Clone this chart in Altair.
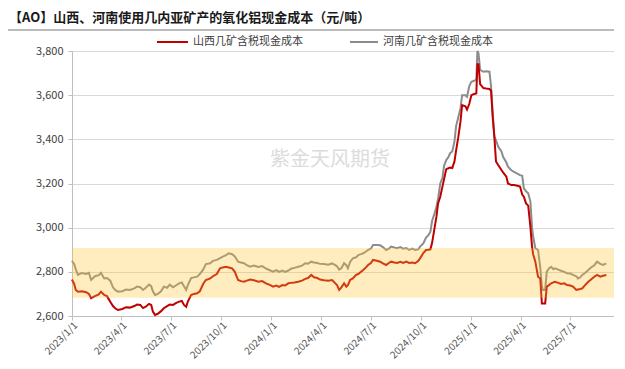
import altair as alt
import pandas as pd

# ---------------- data ----------------
dates = [
    "2023-01-01", "2023-01-05", "2023-01-08", "2023-01-12", "2023-01-19", "2023-01-27",
    "2023-02-01", "2023-02-05", "2023-02-12", "2023-02-19", "2023-02-23", "2023-03-01",
    "2023-03-06", "2023-03-12", "2023-03-17", "2023-03-21", "2023-03-26", "2023-04-03",
    "2023-04-10", "2023-04-17", "2023-04-25", "2023-04-30", "2023-05-06", "2023-05-11",
    "2023-05-16", "2023-05-22", "2023-05-26", "2023-05-29", "2023-06-02", "2023-06-07",
    "2023-06-13", "2023-06-18", "2023-06-24", "2023-06-29", "2023-07-05", "2023-07-10",
    "2023-07-16", "2023-07-21", "2023-07-25", "2023-07-29", "2023-08-01", "2023-08-07",
    "2023-08-12", "2023-08-18", "2023-08-23", "2023-08-29", "2023-09-03", "2023-09-11",
    "2023-09-16", "2023-09-23", "2023-09-29", "2023-10-04", "2023-10-10", "2023-10-15",
    "2023-10-21", "2023-10-26", "2023-11-01", "2023-11-06", "2023-11-12", "2023-11-17",
    "2023-11-23", "2023-11-30", "2023-12-08", "2023-12-15", "2023-12-22", "2023-12-30",
    "2024-01-04", "2024-01-10", "2024-01-15", "2024-01-21", "2024-01-26", "2024-02-01",
    "2024-02-06", "2024-02-12", "2024-02-19", "2024-02-26", "2024-03-03", "2024-03-08",
    "2024-03-14", "2024-03-19", "2024-03-25", "2024-03-30", "2024-04-06", "2024-04-14",
    "2024-04-21", "2024-04-27", "2024-04-30", "2024-05-04", "2024-05-08", "2024-05-13",
    "2024-05-17", "2024-05-20", "2024-05-24", "2024-05-29", "2024-06-04", "2024-06-08",
    "2024-06-13", "2024-06-17", "2024-06-22", "2024-06-26", "2024-07-01", "2024-07-05",
    "2024-07-12", "2024-07-18", "2024-07-23", "2024-07-29", "2024-08-03", "2024-08-07",
    "2024-08-13", "2024-08-18", "2024-08-24", "2024-08-29", "2024-09-04", "2024-09-09",
    "2024-09-15", "2024-09-20", "2024-09-26", "2024-09-29", "2024-10-05", "2024-10-10",
    "2024-10-14", "2024-10-18", "2024-10-21", "2024-10-25", "2024-10-29", "2024-11-01",
    "2024-11-05", "2024-11-09", "2024-11-12", "2024-11-16", "2024-11-20", "2024-11-23",
    "2024-11-27", "2024-12-01", "2024-12-04", "2024-12-08", "2024-12-12", "2024-12-15",
    "2024-12-21", "2024-12-24", "2024-12-28", "2025-01-01", "2025-01-06", "2025-01-10",
    "2025-01-12", "2025-01-14", "2025-01-17", "2025-01-23", "2025-01-28", "2025-02-03",
    "2025-02-06", "2025-02-09", "2025-02-12", "2025-02-15", "2025-02-19", "2025-02-25",
    "2025-02-28", "2025-03-06", "2025-03-09", "2025-03-15", "2025-03-20", "2025-03-26",
    "2025-03-31", "2025-04-04", "2025-04-07", "2025-04-11", "2025-04-15", "2025-04-19",
    "2025-04-22", "2025-04-24", "2025-04-28", "2025-05-03", "2025-05-07", "2025-05-10",
    "2025-05-12", "2025-05-16", "2025-05-19", "2025-05-23", "2025-05-27", "2025-05-31",
    "2025-06-03", "2025-06-09", "2025-06-14", "2025-06-20", "2025-06-25", "2025-07-01",
    "2025-07-06", "2025-07-12", "2025-07-15", "2025-07-19", "2025-07-23", "2025-07-28",
    "2025-08-03", "2025-08-08", "2025-08-14", "2025-08-19", "2025-08-25", "2025-08-30",
    "2025-09-05",
]

henan = [
    2850, 2835, 2810, 2786, 2795, 2790, 2795, 2763, 2780, 2785, 2795, 2770,
    2772, 2760, 2730, 2718, 2710, 2712, 2720, 2718, 2725, 2733, 2730, 2718,
    2728, 2742, 2735, 2712, 2695, 2700, 2712, 2733, 2728, 2742, 2730, 2738,
    2748, 2752, 2735, 2718, 2740, 2772, 2775, 2778, 2790, 2810, 2835, 2839,
    2850, 2854, 2862, 2869, 2876, 2884, 2880, 2870, 2846, 2842, 2839, 2830,
    2823, 2828, 2822, 2826, 2815, 2806, 2801, 2808, 2800, 2806, 2800, 2806,
    2814, 2818, 2823, 2828, 2839, 2837, 2846, 2842, 2840, 2836, 2835, 2832,
    2838, 2830, 2825, 2810, 2816, 2839, 2830, 2816, 2845, 2861, 2866, 2876,
    2880, 2884, 2892, 2899, 2905, 2922, 2922, 2920, 2912, 2899, 2905, 2914,
    2910, 2907, 2912, 2905, 2908, 2899, 2905, 2899, 2902, 2914, 2929, 2955,
    2965, 2982, 3030, 3060, 3095, 3130, 3200, 3225, 3280, 3306, 3320, 3337,
    3345, 3390, 3460, 3500, 3540, 3600, 3600, 3593, 3640, 3661, 3665, 3670,
    3800, 3790, 3714, 3706, 3708, 3706, 3640, 3520, 3412, 3395, 3367, 3345,
    3321, 3295, 3276, 3260, 3253, 3245, 3238, 3235, 3178, 3165, 3156, 3118,
    3000, 2960, 2907, 2899, 2820, 2733, 2718, 2718, 2801, 2815, 2823, 2812,
    2816, 2810, 2805, 2800, 2793, 2792, 2786, 2780, 2770, 2775, 2786, 2795,
    2808, 2820, 2830, 2846, 2836, 2831, 2838,
]

shanxi = [
    2765, 2745, 2718, 2710, 2712, 2708, 2700, 2681, 2690, 2698, 2710, 2695,
    2690, 2665, 2645, 2635, 2627, 2632, 2640, 2638, 2645, 2652, 2650, 2636,
    2642, 2655, 2650, 2620, 2605, 2610, 2622, 2635, 2645, 2652, 2650, 2658,
    2665, 2668, 2650, 2642, 2665, 2695, 2700, 2703, 2712, 2745, 2763, 2770,
    2780, 2790, 2816, 2820, 2823, 2820, 2816, 2800, 2763, 2758, 2755, 2760,
    2765, 2762, 2755, 2758, 2748, 2740, 2733, 2738, 2732, 2740, 2738, 2748,
    2750, 2752, 2755, 2760, 2768, 2772, 2786, 2775, 2772, 2765, 2762, 2760,
    2763, 2748, 2740, 2718, 2730, 2748, 2733, 2740, 2763, 2770, 2786, 2790,
    2800, 2808, 2820, 2831, 2840, 2854, 2850, 2846, 2838, 2831, 2840, 2846,
    2842, 2840, 2845, 2840, 2846, 2840, 2842, 2839, 2850, 2861, 2885, 2899,
    2900, 2902, 2930, 2990, 3050, 3110, 3140, 3186, 3220, 3265, 3269, 3272,
    3270, 3300, 3350, 3410, 3480, 3555, 3550, 3535, 3560, 3600, 3605, 3608,
    3740, 3740, 3650, 3632, 3630, 3628, 3620, 3500, 3412, 3300, 3284, 3261,
    3250, 3231, 3200, 3193, 3193, 3190, 3186, 3150, 3140, 3110, 3100, 3004,
    2914, 2880, 2846, 2778, 2770, 2657, 2657, 2657, 2733, 2740, 2748, 2752,
    2755, 2750, 2745, 2748, 2740, 2738, 2733, 2718, 2720, 2722, 2725, 2740,
    2755, 2765, 2778, 2786, 2778, 2782, 2786,
]

series_names = ["山西几矿含税现金成本", "河南几矿含税现金成本"]
series_colors = ["#C00000", "#8C8C8C"]
band_range = [2683, 2908]
y_ticks = [2600, 2800, 3000, 3200, 3400, 3600, 3800]
x_tick_dates = [(2023, 1), (2023, 4), (2023, 7), (2023, 10), (2024, 1), (2024, 4),
                (2024, 7), (2024, 10), (2025, 1), (2025, 4), (2025, 7)]
title_text = "【AO】山西、河南使用几内亚矿产的氧化铝现金成本（元/吨）"
watermark_text = "紫金天风期货"

# ---------------- layout ----------------
W, H = 542, 265
FONT = "Noto Sans CJK SC"

df_s = pd.DataFrame({"date": dates, "value": shanxi, "series": series_names[0]})
df_h = pd.DataFrame({"date": dates, "value": henan, "series": series_names[1]})

x_scale = alt.Scale(
    type="utc",
    domain=[alt.DateTime(year=2023, month=1, date=1, utc=True),
            alt.DateTime(year=2025, month=9, date=19, utc=True)],
)
y_scale = alt.Scale(domain=[2600, 3800], nice=False, zero=False)

x_axis = alt.Axis(
    values=[alt.DateTime(year=y, month=m, date=1, utc=True) for y, m in x_tick_dates],
    format="%Y/%-m/%-d", labelAngle=-45, labelAlign="right", labelBaseline="top",
    labelFontSize=10, labelColor="#595959", labelFont=FONT, grid=False,
    domainColor="#BFBFBF", tickColor="#BFBFBF", tickSize=4, title=None,
    labelPadding=0, labelOverlap=False,
)
y_axis = alt.Axis(
    values=y_ticks, format=",.0f", labelFontSize=11, labelColor="#404040",
    labelFont=FONT, grid=True, gridColor="#D9D9D9", domainColor="#BFBFBF",
    tickColor="#BFBFBF", tickSize=4, title=None, labelPadding=5,
)

def line_layer(df, color):
    return alt.Chart(df).mark_line(color=color, strokeWidth=2).encode(
        x=alt.X("date:T", scale=x_scale, axis=x_axis),
        y=alt.Y("value:Q", scale=y_scale, axis=y_axis),
    )

line_h = line_layer(df_h, series_colors[1])
line_s = line_layer(df_s, series_colors[0])

band = alt.Chart(pd.DataFrame({"lo": [band_range[0]], "hi": [band_range[1]]})).mark_rect(
    color="#FFBF2B", opacity=0.3
).encode(
    x=alt.value(0), x2=alt.value(W),
    y=alt.Y("lo:Q", scale=y_scale), y2="hi:Q",
)

one = pd.DataFrame({"k": [0]})

title = alt.Chart(pd.DataFrame({"t": [title_text]})).mark_text(
    align="left", baseline="middle", fontSize=13, fontWeight="bold",
    font=FONT, color="#1a1a1a"
).encode(x=alt.value(-63), y=alt.value(-33), text="t:N")

title_rule = alt.Chart(one).mark_rule(color="#A6A6A6", strokeWidth=1.5).encode(
    x=alt.value(-64), x2=alt.value(W + 10), y=alt.value(-21)
)

leg_df = pd.DataFrame({
    "name": series_names,
    "x1": [85, 278], "x2": [116, 306], "tx": [121, 311],
})
leg_rules = alt.Chart(leg_df).mark_rule(strokeWidth=2).encode(
    x=alt.X("x1:Q", scale=None), x2="x2:Q", y=alt.value(-9),
    color=alt.Color("name:N", scale=alt.Scale(domain=series_names, range=series_colors), legend=None),
)
leg_text = alt.Chart(leg_df).mark_text(
    align="left", baseline="middle", fontSize=11, font=FONT, color="#404040"
).encode(x=alt.X("tx:Q", scale=None), y=alt.value(-9), text="name:N")

watermark = alt.Chart(pd.DataFrame({"t": [watermark_text]})).mark_text(
    align="center", baseline="middle", fontSize=20, font=FONT, color="#DCDCDC"
).encode(x=alt.value(258), y=alt.value(109), text="t:N")

chart = alt.layer(
    watermark, line_h, line_s, band, title, title_rule, leg_rules, leg_text
).properties(
    width=W, height=H,
    padding={"left": 64, "top": 43, "right": 0, "bottom": 45},
    autosize="none",
).configure_view(stroke=None).configure(background="white")

chart.save("out.html", embed_options={"renderer": "svg", "actions": False})
